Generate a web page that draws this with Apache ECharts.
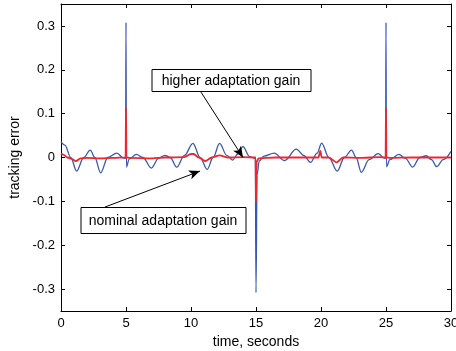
<!DOCTYPE html>
<html>
<head>
<meta charset="utf-8">
<script src="https://cdn.jsdelivr.net/npm/echarts@6.0.0/dist/echarts.min.js"></script>
<style>
  html, body { margin: 0; padding: 0; background: #fff; }
  #chart { width: 456px; height: 351px; }
</style>
</head>
<body>
<div id="chart"></div>
<script>
// tracking error, nominal adaptation gain (blue)
const nominalTime = [
  0, 0.3, 0.75, 1.2, 1.75, 2.25, 2.6, 3.05, 3.6, 4.3, 4.8, 4.97,
  5.0, 5.03, 5.25, 5.8, 6.3, 6.95, 7.5, 8.0, 8.4, 8.9, 9.5, 10.15,
  10.7, 11.25, 11.7, 12.2, 12.75, 13.2, 13.6, 14.0, 14.5, 14.95,
  15.0, 15.08, 15.25, 15.6, 16.4, 17.2, 18.1, 18.7, 19.2, 19.7, 20.05,
  20.6, 21.25, 21.8, 22.35, 22.7, 23.1, 23.7, 24.4, 24.85, 24.97,
  25.0, 25.03, 25.3, 26.0, 26.5, 27.05, 27.6, 28.1, 28.5, 28.9, 29.4, 30
];
const nominalError = [
  0.036, 0.028, 0, -0.031, 0, 0.017, 0, -0.035, 0, 0.01, -0.001, -0.002,
  0.308, -0.022, -0.003, 0.007, 0, -0.024, -0.002, 0.005, 0, -0.022, 0.005, 0.032,
  0, -0.027, 0, 0.032, 0.005, -0.006, 0.008, 0.025, 0.002, -0.002,
  -0.308, -0.04, -0.008, 0.003, 0.01, -0.007, 0.019, 0.004, -0.011, 0.01, 0.033,
  0, -0.031, 0, 0.017, 0, -0.034, -0.005, 0.009, -0.001, -0.002,
  0.308, -0.021, -0.005, 0.007, -0.002, -0.022, 0, 0.004, -0.005, -0.021, -0.005, 0.014
];

// tracking error, higher adaptation gain (red)
const higherTime = [
  0, 0.2, 0.5, 0.8, 1.15, 1.5, 2.0, 3.0, 4.0, 4.97,
  5.0, 5.03, 5.3, 7.0, 8.0, 9.5, 10.0, 10.2, 10.6, 11.1, 11.6, 12.2, 12.8, 14.0, 14.97,
  15.0, 15.05, 15.2, 16.5, 18.0, 19.8, 19.95, 20.05, 20.6, 21.2, 21.7, 23.0, 24.5, 24.97,
  25.0, 25.03, 25.3, 27.0, 30
];
const higherError = [
  0.009, 0.006, 0, -0.003, -0.008, -0.002, -0.001, -0.002, -0.001, 0,
  0.113, 0, -0.001, -0.002, 0, 0.001, 0.008, 0.008, 0, -0.008, 0, 0.005, 0, 0.001, 0,
  -0.101, -0.01, -0.002, 0, 0, 0, 0.015, 0, 0, -0.011, 0, -0.001, 0.001, 0,
  0.113, 0, -0.001, 0, 0
];

const yTicks = [-0.3, -0.2, -0.1, 0, 0.1, 0.2, 0.3];

// annotation arrows: [from, to] in data units
const arrows = [
  [[10.77, 0.149], [14.0, 0.0]],
  [[3.38, -0.113], [10.69, -0.031]]
];
const labels = [
  { text: 'higher adaptation gain', at: [13.1, 0.176], w: 159, h: 22 },
  { text: 'nominal adaptation gain', at: [7.88, -0.143], w: 165, h: 26 }
];

const FONT = '"Liberation Sans", Arial, sans-serif';
const BLUE = '#3658b0';
const RED = '#f0262c';

const chart = echarts.init(document.getElementById('chart'));

function pairs(t, v) {
  return t.map((x, i) => [x, v[i]]);
}

function xAxisDef(pos) {
  return {
    type: 'value', min: 0, max: 30, interval: 5, position: pos,
    axisLine: { onZero: false, lineStyle: { color: '#000', width: 1 } },
    axisTick: { inside: true, length: 4, lineStyle: { color: '#000' } },
    axisLabel: { show: pos === 'bottom', color: '#000', fontSize: 13, fontFamily: FONT, margin: 6 },
    splitLine: { show: false }
  };
}

function yAxisDef(pos) {
  return {
    type: 'value', min: -0.35, max: 0.35, position: pos,
    axisLine: { onZero: false, lineStyle: { color: '#000', width: 1 } },
    axisTick: { inside: true, length: 4, customValues: yTicks, lineStyle: { color: '#000' } },
    axisLabel: {
      show: pos === 'left', color: '#000', fontSize: 13, fontFamily: FONT, margin: 6,
      customValues: yTicks,
      formatter: v => Math.abs(v) < 1e-9 ? '0' : v.toFixed(1)
    },
    splitLine: { show: false }
  };
}

const xBottom = xAxisDef('bottom');
xBottom.name = 'time, seconds';
xBottom.nameLocation = 'middle';
xBottom.nameGap = 22;
xBottom.nameTextStyle = { color: '#000', fontSize: 14, fontFamily: FONT };

const yLeft = yAxisDef('left');
yLeft.name = 'tracking error';
yLeft.nameLocation = 'middle';
yLeft.nameGap = 37;
yLeft.nameTextStyle = { color: '#000', fontSize: 14, fontFamily: FONT };

chart.setOption({
  animation: false,
  backgroundColor: '#fff',
  grid: { left: 61, right: 5, top: 4, bottom: 40, containLabel: false, outerBoundsMode: 'none' },
  xAxis: [xBottom, xAxisDef('top')],
  yAxis: [yLeft, yAxisDef('right')],
  series: [
    {
      name: 'nominal', type: 'line', data: pairs(nominalTime, nominalError),
      showSymbol: false, smooth: 0.35, smoothMonotone: 'x',
      lineStyle: { color: BLUE, width: 1.3 }, z: 2
    },
    {
      name: 'higher', type: 'line', data: pairs(higherTime, higherError),
      showSymbol: false, smooth: 0.3, smoothMonotone: 'x',
      lineStyle: { color: RED, width: 1.8 }, z: 3,
      markLine: {
        silent: true, animation: false,
        symbol: ['none', 'arrow'], symbolSize: [7, 11],
        lineStyle: { color: '#000', width: 1, type: 'solid' },
        label: { show: false },
        data: arrows.map(a => [{ coord: a[0] }, { coord: a[1] }])
      }
    }
  ]
});

// annotation boxes placed from data coordinates
chart.setOption({
  graphic: labels.map(l => {
    const p = chart.convertToPixel({ gridIndex: 0 }, l.at);
    return {
      type: 'group', x: Math.round(p[0]), y: Math.round(p[1]), z: 10,
      children: [
        {
          type: 'rect',
          shape: { x: -l.w / 2 + 0.5, y: -l.h / 2 + 0.5, width: l.w, height: l.h },
          style: { fill: '#fff', stroke: '#000', lineWidth: 1 }
        },
        {
          type: 'text',
          style: {
            text: l.text, x: 0, y: 1, align: 'center', verticalAlign: 'middle',
            font: '14px ' + FONT, fill: '#000'
          }
        }
      ]
    };
  })
});
</script>
</body>
</html>
